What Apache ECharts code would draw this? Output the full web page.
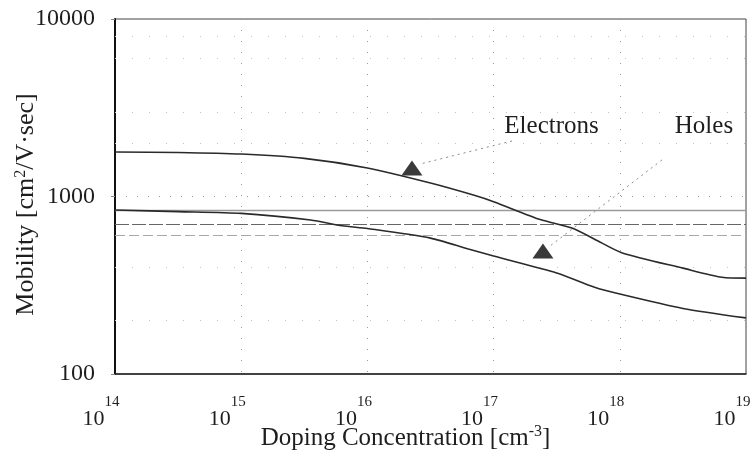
<!DOCTYPE html>
<html>
<head>
<meta charset="utf-8">
<script src="https://cdn.jsdelivr.net/npm/echarts@6/dist/echarts.min.js"></script>
<style>
html,body{margin:0;padding:0;background:#fff;}
#chart{width:755px;height:456px;}
</style>
</head>
<body>
<div id="chart"></div>
<script>
// ---- data ----
const dopingExp   = [14.0, 14.5, 15.0, 15.5, 16.0, 16.5, 16.84, 17.0, 17.37, 17.62, 17.8, 18.02, 18.5, 18.81, 19.0];
const electronMob = [1782, 1770, 1734, 1640, 1448, 1191, 1019, 935, 741, 664, 575, 481, 395, 351, 347];
const holeExp     = [14.0, 14.5, 15.0, 15.55, 15.8, 16.0, 16.5, 16.8, 17.0, 17.5, 17.8, 18.0, 18.5, 19.0];
const holeMob     = [839, 822, 803, 737, 684, 660, 583, 506, 462, 371, 308, 282, 234, 207];
const xTickExps   = [14, 15, 16, 17, 18, 19];
const yTicks      = [100, 1000, 10000];
const scanLines   = [832, 697, 607];            // horizontal lines in the plot
const minorGrid   = [200, 400, 2000, 3000, 6000, 8000];
const labels      = ['Electrons', 'Holes'];
const labelPos    = [[17.459, 2478], [18.667, 2478]];          // [log10 x, y]
const leaders     = [[[17.146, 2056], [16.417, 1524]], [[18.334, 1607], [17.447, 526]]];
const arrowHeads  = [[16.353, 1448], [17.391, 493]];

const FONT = 'Liberation Serif';
const INK = '#1e1e1e';
const pw = e => Math.pow(10, e);

const chart = echarts.init(document.getElementById('chart'), null, {renderer: 'canvas'});

const option = {
  animation: false,
  backgroundColor: '#fff',
  grid: {left: 115, right: 9, top: 19, bottom: 82, show: true, borderColor: '#444', borderWidth: 1,
         containLabel: false, outerBoundsMode: 'none'},
  xAxis: {
    type: 'log', logBase: 10, min: pw(xTickExps[0]), max: pw(xTickExps[xTickExps.length - 1]),
    name: 'Doping Concentration [cm{s|-3}]',
    nameLocation: 'middle', nameGap: 50, nameMoveOverlap: false,
    nameTextStyle: {fontFamily: FONT, fontSize: 25, color: INK, padding: [0, 50, 0, 0],
      rich: {s: {fontFamily: FONT, fontSize: 16, color: INK, verticalAlign: 'top', padding: [0, 0, 12, 0]}}},
    axisLine: {show: true, lineStyle: {color: '#222', width: 1.5}},
    axisTick: {show: false},
    axisLabel: {
      margin: 21, padding: [0, 28, 0, 0],
      formatter: v => '{b|10}{s|' + Math.round(Math.log10(v)) + '}',
      rich: {
        b: {fontFamily: FONT, fontSize: 22, lineHeight: 35, color: INK, verticalAlign: 'bottom'},
        s: {fontFamily: FONT, fontSize: 15, lineHeight: 15, color: INK, verticalAlign: 'top'}
      }
    },
    splitLine: {show: true, lineStyle: {color: '#999', type: [1, 10], width: 1}}
  },
  yAxis: {
    type: 'log', logBase: 10, min: yTicks[0], max: yTicks[yTicks.length - 1],
    name: '{n|Mobility [cm}{s|2}{n|/V·sec]}',
    nameLocation: 'middle', nameGap: 76, nameMoveOverlap: false,
    nameTextStyle: {
      padding: [0, 16, 0, 0],
      rich: {
        n: {fontFamily: FONT, fontSize: 26, color: INK, verticalAlign: 'bottom', lineHeight: 26},
        s: {fontFamily: FONT, fontSize: 16, color: INK, verticalAlign: 'top', lineHeight: 16, padding: [0, 0, 14, 0]}
      }
    },
    axisLine: {show: true, lineStyle: {color: '#111', width: 2}},
    axisTick: {show: true, length: 4, lineStyle: {color: '#888'}},
    axisLabel: {margin: 20, fontFamily: FONT, fontSize: 24, color: INK, formatter: v => String(Math.round(v))},
    splitLine: {show: true, lineStyle: {color: '#999', type: [1, 10], width: 1}}
  },
  series: [
    {
      name: 'Electrons', type: 'line', smooth: 0.25, symbol: 'none',
      lineStyle: {color: '#2a2a2a', width: 1.6},
      data: dopingExp.map((e, i) => [pw(e), electronMob[i]]),
      z: 5
    },
    {
      name: 'Holes', type: 'line', smooth: 0.25, symbol: 'none',
      lineStyle: {color: '#2a2a2a', width: 1.6},
      data: holeExp.map((e, i) => [pw(e), holeMob[i]]),
      z: 5
    },
    {
      // helper series: reference lines, annotations
      type: 'line', data: [], silent: true, z: 3,
      markLine: {
        silent: true, symbol: 'none', animation: false,
        label: {show: false},
        data: [
          ...minorGrid.map(v => ({yAxis: v, lineStyle: {color: '#c4c4c4', type: [1, 16], width: 1}})),
          {yAxis: scanLines[0], lineStyle: {color: '#9a9a9a', type: 'solid', width: 1.4}},
          {yAxis: scanLines[1], lineStyle: {color: '#666', type: [14, 3], width: 1}},
          {yAxis: scanLines[2], lineStyle: {color: '#a8a8a8', type: [10, 4], width: 1.2}},
          ...leaders.map(l => [
            {coord: [pw(l[0][0]), l[0][1]], lineStyle: {color: '#8a8a8a', type: [2, 4], width: 1}},
            {coord: [pw(l[1][0]), l[1][1]]}
          ])
        ]
      },
      markPoint: {
        silent: true, animation: false,
        data: [
          ...labels.map((t, i) => ({
            name: t, coord: [pw(labelPos[i][0]), labelPos[i][1]], symbolSize: 0,
            label: {show: true, position: 'inside', formatter: '{b}', fontFamily: FONT, fontSize: 25, color: INK}
          })),
          ...arrowHeads.map(a => ({
            coord: [pw(a[0]), a[1]], symbol: 'triangle', symbolSize: [21, 15],
            itemStyle: {color: '#3a3a3a'}, label: {show: false}
          }))
        ]
      }
    }
  ]
};
chart.setOption(option);
</script>
</body>
</html>
